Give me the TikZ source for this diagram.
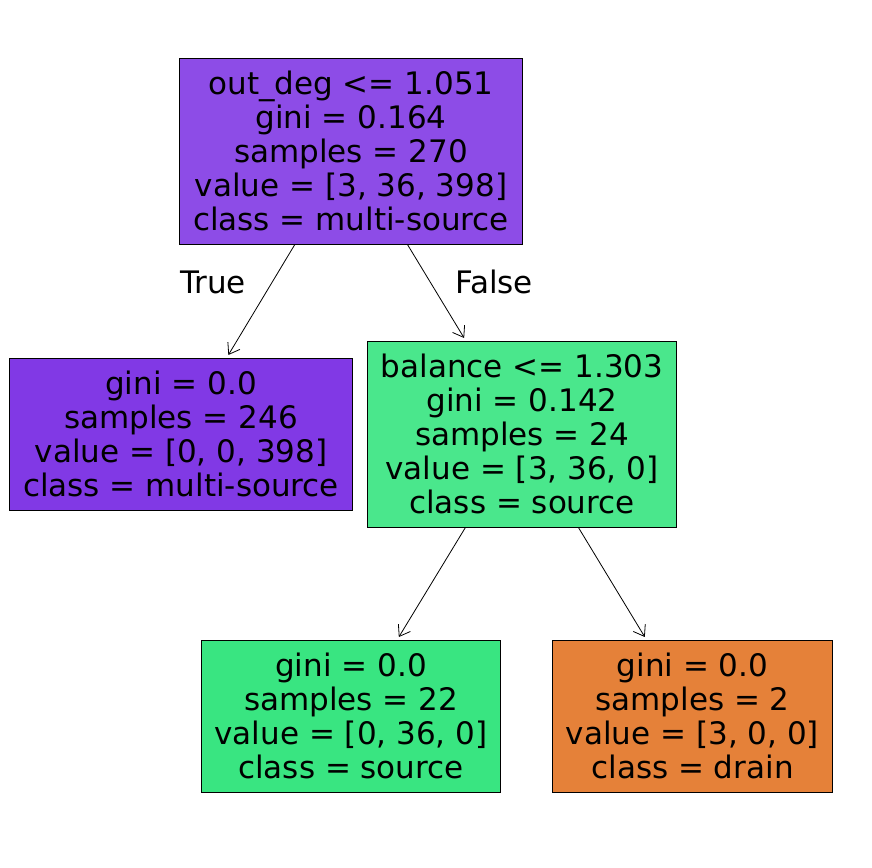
\documentclass[tikz,border=0pt]{standalone}
\usepackage{fontspec}
\setmainfont{DejaVu Sans}
\usepackage{tikz}
\usetikzlibrary{arrows.meta}
\definecolor{purplefull}{RGB}{129,57,229}
\definecolor{purplemix}{RGB}{141,76,231}
\definecolor{greenfull}{RGB}{57,229,129}
\definecolor{greenmix}{RGB}{74,231,140}
\definecolor{orangefull}{RGB}{229,129,57}
\tikzset{  treebox/.style={draw,line width=0.9pt,align=center,inner xsep=13.5pt,inner ysep=13pt,font=\fontsize{31}{34}\selectfont} }
\tikzset{  edgelabel/.style={font=\fontsize{31}{34}\selectfont} }

\begin{document}
\begin{tikzpicture}[x=1pt,y=-1pt,-{Straight Barb[length=10pt,width=14pt]},line width=0.8pt]
   \useasboundingbox (0,0) rectangle (872,867);
   \node[treebox,fill=purplemix] (root) at (351,151) {out\_deg <= 1.051\\gini = 0.164\\samples = 270\\value = [3, 36, 398]\\class = multi-source};
   \node[treebox,fill=purplefull] (left) at (181,434) {gini = 0.0\\samples = 246\\value = [0, 0, 398]\\class = multi-source};
   \node[treebox,fill=greenmix] (right) at (522,434) {balance <= 1.303\\gini = 0.142\\samples = 24\\value = [3, 36, 0]\\class = source};
   \node[treebox,fill=greenfull] (rl) at (351,716) {gini = 0.0\\samples = 22\\value = [0, 36, 0]\\class = source};
   \node[treebox,fill=orangefull] (rr) at (692.5,716) {gini = 0.0\\samples = 2\\value = [3, 0, 0]\\class = drain};
   \node[edgelabel] (true) at (213,282) {True};
   \node[edgelabel] (false) at (494,282) {False};
   \draw[shorten >=3pt] (root) -- (left);
   \draw[shorten >=3pt] (root) -- (right);
   \draw[shorten >=3pt] (right) -- (rl);
   \draw[shorten >=3pt] (right) -- (rr);
  \end{tikzpicture}
\end{document}
